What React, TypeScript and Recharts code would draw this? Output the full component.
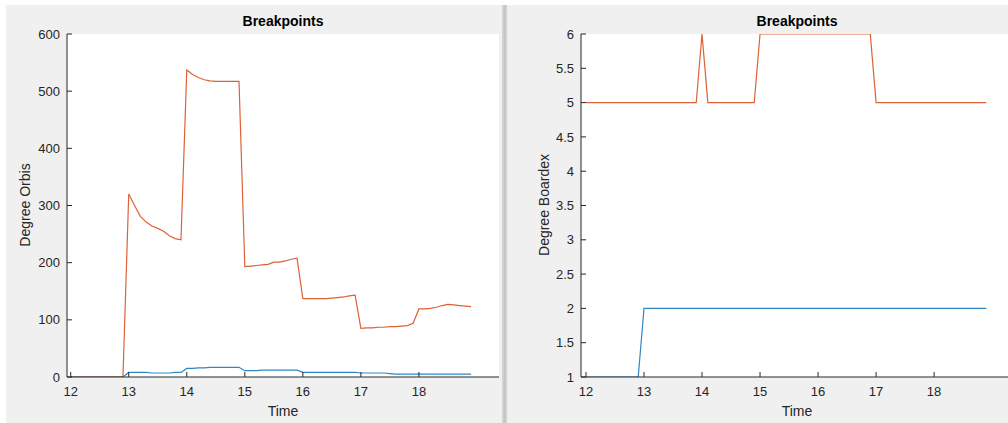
import React from 'react';
import { LineChart, Line, XAxis, YAxis, CartesianGrid } from 'recharts';

// Sample times (0.1 step) shared by both panels
const time = [
  12.0, 12.1, 12.2, 12.3, 12.4, 12.5, 12.6, 12.7, 12.8, 12.9,
  13.0, 13.1, 13.2, 13.3, 13.4, 13.5, 13.6, 13.7, 13.8, 13.9,
  14.0, 14.1, 14.2, 14.3, 14.4, 14.5, 14.6, 14.7, 14.8, 14.9,
  15.0, 15.1, 15.2, 15.3, 15.4, 15.5, 15.6, 15.7, 15.8, 15.9,
  16.0, 16.1, 16.2, 16.3, 16.4, 16.5, 16.6, 16.7, 16.8, 16.9,
  17.0, 17.1, 17.2, 17.3, 17.4, 17.5, 17.6, 17.7, 17.8, 17.9,
  18.0, 18.1, 18.2, 18.3, 18.4, 18.5, 18.6, 18.7, 18.8, 18.9,
];

// Degree Orbis
const orbisBlue = [
  0, 0, 0, 0, 0, 0, 0, 0, 0, 0,
  8, 8, 8, 8, 7, 7, 7, 7, 8, 8,
  15, 15, 16, 16, 17, 17, 17, 17, 17, 17,
  11, 11, 11, 12, 12, 12, 12, 12, 12, 12,
  8, 8, 8, 8, 8, 8, 8, 8, 8, 8,
  7, 7, 7, 7, 7, 6, 5, 5, 5, 5,
  5, 5, 5, 5, 5, 5, 5, 5, 5, 5,
];
const orbisOrange = [
  0, 0, 0, 0, 0, 0, 0, 0, 0, 0,
  320, 300, 281, 271, 264, 260, 255, 247, 242, 240,
  537, 529, 524, 520, 518, 517, 517, 517, 517, 517,
  193, 194, 195, 196, 197, 201, 201, 203, 206, 208,
  137, 137, 137, 137, 137, 138, 139, 140, 142, 143,
  85, 86, 86, 87, 87, 88, 88, 89, 90, 94,
  119, 119, 120, 122, 125, 127, 126, 125, 124, 123,
];

// Degree Boardex
const boardexBlue = [
  1, 1, 1, 1, 1, 1, 1, 1, 1, 1,
  2, 2, 2, 2, 2, 2, 2, 2, 2, 2,
  2, 2, 2, 2, 2, 2, 2, 2, 2, 2,
  2, 2, 2, 2, 2, 2, 2, 2, 2, 2,
  2, 2, 2, 2, 2, 2, 2, 2, 2, 2,
  2, 2, 2, 2, 2, 2, 2, 2, 2, 2,
  2, 2, 2, 2, 2, 2, 2, 2, 2, 2,
];
const boardexOrange = [
  5, 5, 5, 5, 5, 5, 5, 5, 5, 5,
  5, 5, 5, 5, 5, 5, 5, 5, 5, 5,
  6, 5, 5, 5, 5, 5, 5, 5, 5, 5,
  6, 6, 6, 6, 6, 6, 6, 6, 6, 6,
  6, 6, 6, 6, 6, 6, 6, 6, 6, 6,
  5, 5, 5, 5, 5, 5, 5, 5, 5, 5,
  5, 5, 5, 5, 5, 5, 5, 5, 5, 5,
];

const xTicks = [12, 13, 14, 15, 16, 17, 18];
const orbisTicks = [0, 100, 200, 300, 400, 500, 600];
const boardexTicks = [1, 1.5, 2, 2.5, 3, 3.5, 4, 4.5, 5, 5.5, 6];

const FONT = '"Liberation Sans", Arial, Helvetica, sans-serif';
const AXIS = '#262626';
const BLUE = '#2f88c4';
const ORANGE = '#dc6236';

type Row = { t: number; blue: number; orange: number };

const orbisRows: Row[] = time.map((t, i) => ({ t, blue: orbisBlue[i], orange: orbisOrange[i] }));
const boardexRows: Row[] = time.map((t, i) => ({ t, blue: boardexBlue[i], orange: boardexOrange[i] }));

type PanelProps = {
  rows: Row[];
  width: number;
  margin: { top: number; right: number; bottom: number; left: number };
  xDomain: [number, number];
  yDomain: [number, number];
  yTicks: number[];
};

const tickStyle = { fill: AXIS, fontSize: 13, fontFamily: FONT };
const lineStyle = { stroke: AXIS, strokeWidth: 1 };

function Panel({ rows, width, margin, xDomain, yDomain, yTicks }: PanelProps) {
  return (
    <LineChart width={width} height={423} data={rows} margin={margin}>
      <CartesianGrid fill="#ffffff" stroke="none" />
      <XAxis
        dataKey="t"
        type="number"
        domain={xDomain}
        allowDataOverflow
        ticks={xTicks}
        height={40}
        tickSize={-5}
        tickMargin={15}
        axisLine={lineStyle}
        tickLine={lineStyle}
        tick={tickStyle}
      />
      <XAxis
        xAxisId="top"
        orientation="top"
        dataKey="t"
        type="number"
        domain={xDomain}
        allowDataOverflow
        ticks={xTicks}
        height={0}
        tickSize={-5}
        axisLine={lineStyle}
        tickLine={lineStyle}
        tickFormatter={() => ''}
      />
      <YAxis
        type="number"
        domain={yDomain}
        allowDataOverflow
        ticks={yTicks}
        width={60}
        tickSize={-5}
        tickMargin={12}
        axisLine={lineStyle}
        tickLine={lineStyle}
        tick={tickStyle}
      />
      <YAxis
        yAxisId="right"
        orientation="right"
        type="number"
        domain={yDomain}
        allowDataOverflow
        ticks={yTicks}
        width={0}
        tickSize={-5}
        axisLine={lineStyle}
        tickLine={lineStyle}
        tickFormatter={() => ''}
      />
      <Line
        type="linear"
        dataKey="blue"
        stroke={BLUE}
        strokeWidth={1.2}
        dot={false}
        activeDot={false}
        isAnimationActive={false}
      />
      <Line
        type="linear"
        dataKey="orange"
        stroke={ORANGE}
        strokeWidth={1.2}
        dot={false}
        activeDot={false}
        isAnimationActive={false}
      />
    </LineChart>
  );
}

export default function App() {
  return (
    <div
      style={{
        position: 'relative',
        width: 1008,
        height: 423,
        overflow: 'hidden',
        background: '#ffffff',
        fontFamily: FONT,
      }}
    >
      <style>{'body{margin:0;}'}</style>
      {/* figure window backgrounds */}
      <div style={{ position: 'absolute', left: 6, top: 5, width: 496, height: 418, background: '#f0f0f0' }} />
      <div
        style={{
          position: 'absolute',
          left: 502,
          top: 5,
          width: 5,
          height: 418,
          background: 'linear-gradient(to right, #d9d9d9, #c6c6c6 50%, #d4d4d4)',
        }}
      />
      <div style={{ position: 'absolute', left: 507, top: 5, width: 501, height: 418, background: '#f0f0f0' }} />

      <div style={{ position: 'absolute', left: 0, top: 0 }}>
        <Panel
          rows={orbisRows}
          width={502}
          margin={{ top: 34, right: 3, bottom: 6, left: 7 }}
          xDomain={[11.936, 19.38]}
          yDomain={[0, 600]}
          yTicks={orbisTicks}
        />
      </div>
      <div style={{ position: 'absolute', left: 507, top: 0 }}>
        <Panel
          rows={boardexRows}
          width={510}
          margin={{ top: 34, right: 4, bottom: 6, left: 14 }}
          xDomain={[11.914, 19.36]}
          yDomain={[1, 6]}
          yTicks={boardexTicks}
        />
      </div>

      {/* titles and axis labels */}
      <svg
        width={1008}
        height={423}
        style={{ position: 'absolute', left: 0, top: 0, pointerEvents: 'none' }}
      >
        <g fontFamily={FONT} fill={AXIS}>
          <text x={283} y={26} textAnchor="middle" fontSize={14} fontWeight="bold" fill="#000">
            Breakpoints
          </text>
          <text x={797} y={26} textAnchor="middle" fontSize={14} fontWeight="bold" fill="#000">
            Breakpoints
          </text>
          <text x={283} y={416} textAnchor="middle" fontSize={14}>
            Time
          </text>
          <text x={797} y={416} textAnchor="middle" fontSize={14}>
            Time
          </text>
          <text x={30} y={205} textAnchor="middle" fontSize={14} transform="rotate(-90 30 205)">
            Degree Orbis
          </text>
          <text x={549} y={205} textAnchor="middle" fontSize={14} transform="rotate(-90 549 205)">
            Degree Boardex
          </text>
        </g>
      </svg>
    </div>
  );
}
